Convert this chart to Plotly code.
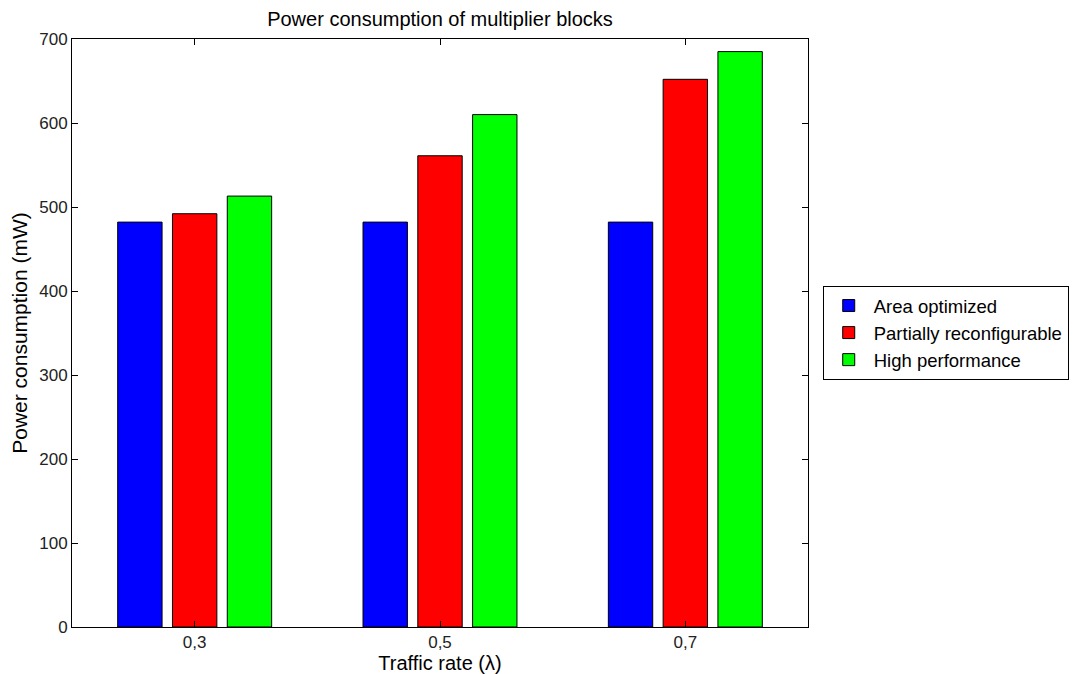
import plotly.graph_objects as go

categories = ["0,3", "0,5", "0,7"]
series_names = ["Area optimized", "Partially reconfigurable", "High performance"]
area_optimized = [482, 482, 482]
partially_reconfigurable = [492, 561, 652]
high_performance = [513, 610, 685]
colors = ["#0000ff", "#ff0000", "#00ff00"]
y_ticks = [0, 100, 200, 300, 400, 500, 600, 700]

FONT = "Liberation Sans, Arial, sans-serif"
OFF = 8  # page body margin
W, H = 1083 - OFF, 674 - OFF
L, T = 72 - OFF, 39 - OFF
PW, PH = 736, 588

fig = go.Figure()
for name, vals, col in zip(series_names, [area_optimized, partially_reconfigurable, high_performance], colors):
    fig.add_trace(go.Bar(
        x=categories, y=vals, name=name,
        marker=dict(color=col, line=dict(color="#000000", width=1)),
    ))

fig.update_layout(
    width=W, height=H,
    margin=dict(l=L, r=W - L - PW, t=T, b=H - T - PH, autoexpand=False),
    paper_bgcolor="white", plot_bgcolor="white",
    barmode="group", bargap=0.33, bargroupgap=0.19,
    font=dict(family=FONT, size=17, color="#222222"),
    title=dict(text="Power consumption of multiplier blocks", x=(L + PW / 2) / W, xanchor="center",
               y=1 - (19 - OFF) / H, yanchor="middle", font=dict(family=FONT, size=20, color="#000000")),
    legend=dict(x=1.02, xanchor="left", y=0.5, yanchor="middle",
                bordercolor="#000000", borderwidth=1, bgcolor="white",
                font=dict(family=FONT, size=18.5, color="#000000"),
                tracegroupgap=0, itemwidth=40),
    showlegend=True,
)
fig.update_xaxes(
    range=[-0.5, 2.5], showline=True, linecolor="#000000", linewidth=1, mirror="ticks",
    ticks="inside", ticklen=6, tickcolor="#000000", showgrid=False, automargin=False,
    tickfont=dict(family=FONT, size=17, color="#222222"),
    title=dict(text="Traffic rate (λ)", font=dict(family=FONT, size=20, color="#000000"), standoff=2),
)
fig.update_yaxes(
    range=[0, 700], tickvals=y_ticks, showline=True, linecolor="#000000", linewidth=1, mirror="ticks",
    ticks="inside", ticklen=6, tickcolor="#000000", showgrid=False, zeroline=False, automargin=False,
    tickfont=dict(family=FONT, size=17, color="#222222"),
    title=dict(text="Power consumption (mW)", font=dict(family=FONT, size=21, color="#000000"), standoff=8),
)

fig.write_html("out.html")
